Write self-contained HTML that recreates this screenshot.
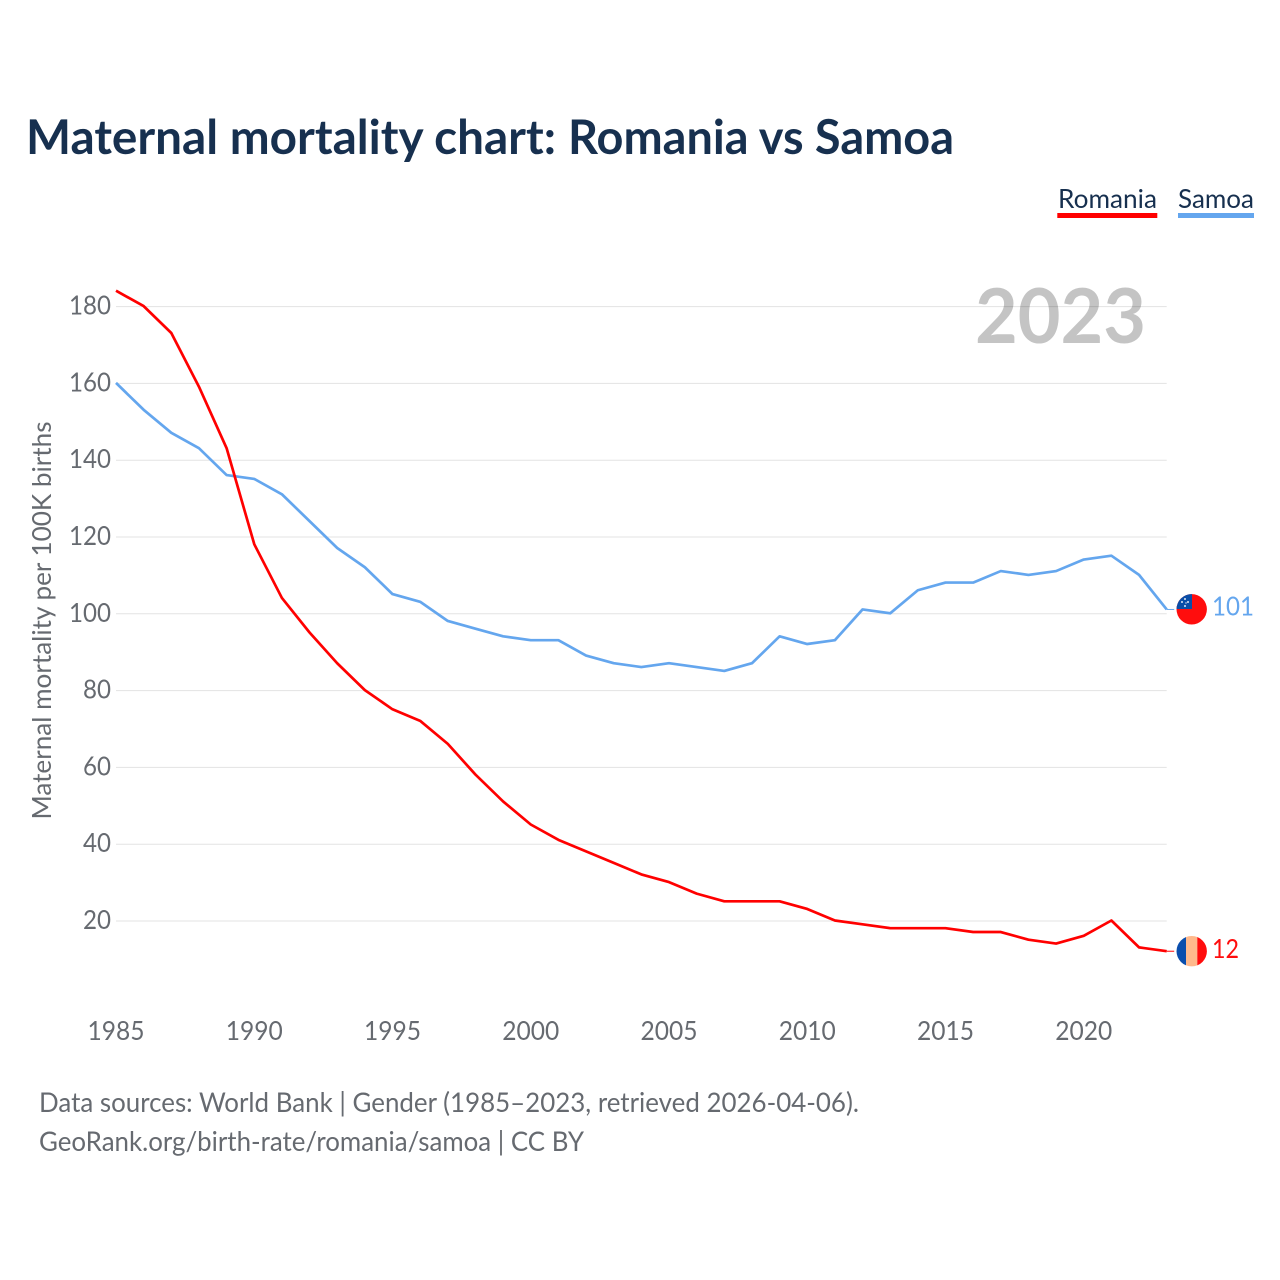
<!DOCTYPE html>
<html lang="en">
<head>
<meta charset="utf-8">
<title>Maternal mortality chart: Romania vs Samoa</title>
<style>
html,body{margin:0;padding:0;background:#fff;width:1280px;height:1280px;overflow:hidden}
svg{display:block}
text{font-family:"Lato","Carlito","Liberation Sans",sans-serif}
</style>
</head>
<body>
<svg id="chart" xmlns="http://www.w3.org/2000/svg" width="1280" height="1280" viewBox="0 0 1280 1280">
  <defs>
    <clipPath id="flag-clip-samoa"><circle cx="1191.7" cy="609.3" r="15.2"/></clipPath>
    <clipPath id="flag-clip-romania"><circle cx="1191.7" cy="951.2" r="15.2"/></clipPath>
  </defs>
  <g>
    <text x="26" y="154" font-size="48" font-weight="700" fill="#17304f" textLength="530" lengthAdjust="spacingAndGlyphs">Maternal mortality chart:</text>
    <text x="568" y="154" font-size="48" font-weight="700" fill="#17304f" textLength="386" lengthAdjust="spacingAndGlyphs">Romania vs Samoa</text>
  </g>

  <g>
    <g>
      <text x="1058" y="208" font-size="26" fill="#17304f" textLength="99" lengthAdjust="spacingAndGlyphs">Romania</text>
      <rect x="1057.3" y="213" width="100" height="5" fill="#ff0000"/>
    </g>
    <g>
      <text x="1178" y="208" font-size="26" fill="#17304f" textLength="76" lengthAdjust="spacingAndGlyphs">Samoa</text>
      <rect x="1178" y="213" width="76" height="5" fill="#64a6ee"/>
    </g>
  </g>

  <text x="975" y="343" font-size="76" font-weight="700" fill="#c4c4c4" textLength="171" lengthAdjust="spacingAndGlyphs">2023</text>

  <g id="grid"></g>
  <g id="yticks"></g>
  <g id="xticks"></g>

  <text transform="translate(51,620.5) rotate(-90)" text-anchor="middle" font-size="26" fill="#666a70" textLength="398" lengthAdjust="spacingAndGlyphs">Maternal mortality per 100K births</text>

  <g id="series" transform="translate(0,-0.5)"></g>

  <g id="flag-samoa">
    <g clip-path="url(#flag-clip-samoa)">
      <rect x="1176" y="593" width="32" height="33" fill="#ff0d0d"/>
      <rect x="1176" y="593" width="16" height="16" fill="#0a4ea8"/>
      <circle cx="1185" cy="599" r="1" fill="#dfe8f5"/>
      <circle cx="1188" cy="602" r="1" fill="#dfe8f5"/>
      <circle cx="1182" cy="602" r="1" fill="#dfe8f5"/>
      <circle cx="1185" cy="606" r="1" fill="#dfe8f5"/>
      <circle cx="1186" cy="603" r="0.7" fill="#dfe8f5"/>
    </g>
  </g>
  <g id="flag-romania">
    <g clip-path="url(#flag-clip-romania)">
      <rect x="1176" y="935" width="10" height="33" fill="#0a4ead"/>
      <rect x="1186" y="935" width="11.3" height="33" fill="#ffb98c"/>
      <rect x="1197.3" y="935" width="11" height="33" fill="#ff0d0d"/>
    </g>
  </g>
  <text x="1212" y="615.5" font-size="26.5" fill="#64a6ee" textLength="42" lengthAdjust="spacingAndGlyphs">101</text>
  <text x="1212" y="958" font-size="26.5" fill="#ff0d0d" textLength="27" lengthAdjust="spacingAndGlyphs">12</text>

  <g>
    <text x="39" y="1112" font-size="27" fill="#666a70" textLength="820" lengthAdjust="spacingAndGlyphs">Data sources: World Bank | Gender (1985–2023, retrieved 2026-04-06).</text>
    <text x="39" y="1151" font-size="27" fill="#666a70" textLength="545" lengthAdjust="spacingAndGlyphs">GeoRank.org/birth-rate/romania/samoa | CC BY</text>
  </g>
</svg>
<script>
const years = [1985,1986,1987,1988,1989,1990,1991,1992,1993,1994,1995,1996,1997,1998,1999,2000,2001,2002,2003,2004,2005,2006,2007,2008,2009,2010,2011,2012,2013,2014,2015,2016,2017,2018,2019,2020,2021,2022,2023];
const romania = [184,180,173,159,143,118,104,95,87,80,75,72,66,58,51,45,41,38,35,32,30,27,25,25,25,23,20,19,18,18,18,17,17,15,14,16,20,13,12];
const samoa = [160,153,147,143,136,135,131,124,117,112,105,103,98,96,94,93,93,89,87,86,87,86,85,87,94,92,93,101,100,106,108,108,111,110,111,114,115,110,101];
const yTicks = [20,40,60,80,100,120,140,160,180];
const xTicks = [1985,1990,1995,2000,2005,2010,2015,2020];

const NS = 'http://www.w3.org/2000/svg';
const xScale = function (yr) { return 116 + (yr - 1985) * 27.65; };
const yScale = function (v) { return 997.8 - v * 3.84; };

const gridGroup = document.getElementById('grid');
const yTickGroup = document.getElementById('yticks');
const xTickGroup = document.getElementById('xticks');
const seriesGroup = document.getElementById('series');

yTicks.forEach(function (v) {
  const line = document.createElementNS(NS, 'line');
  
  
  line.setAttribute('x1', xScale(1985));
  line.setAttribute('x2', xScale(2023));
  line.setAttribute('y1', yScale(v));
  line.setAttribute('y2', yScale(v));
  line.setAttribute('stroke', 'rgba(0,0,0,0.11)');
  line.setAttribute('stroke-width', '1');
  gridGroup.appendChild(line);

  const label = document.createElementNS(NS, 'text');
  
  
  label.setAttribute('x', 111);
  label.setAttribute('y', yScale(v) + 8);
  label.setAttribute('text-anchor', 'end');
  label.setAttribute('font-size', '26');
  label.setAttribute('fill', '#666a70');
  label.setAttribute('textLength', String(v).length === 3 ? 42 : 28);
  label.setAttribute('lengthAdjust', 'spacingAndGlyphs');
  label.textContent = v;
  yTickGroup.appendChild(label);
});

xTicks.forEach(function (yr) {
  const label = document.createElementNS(NS, 'text');
  
  
  label.setAttribute('x', xScale(yr));
  label.setAttribute('y', 1040);
  label.setAttribute('text-anchor', 'middle');
  label.setAttribute('font-size', '26');
  label.setAttribute('fill', '#666a70');
  label.setAttribute('textLength', 57);
  label.setAttribute('lengthAdjust', 'spacingAndGlyphs');
  label.textContent = yr;
  xTickGroup.appendChild(label);
});

function drawSeries(values, color, name) {
  const pts = values.map(function (v, i) {
    return xScale(years[i]).toFixed(2) + ',' + yScale(v).toFixed(2);
  }).join(' ');
  const poly = document.createElementNS(NS, 'polyline');
  
  
  poly.setAttribute('points', pts);
  poly.setAttribute('fill', 'none');
  poly.setAttribute('stroke', color);
  poly.setAttribute('stroke-width', '2.7');
  poly.setAttribute('stroke-linejoin', 'round');
  seriesGroup.appendChild(poly);

  const last = values[values.length - 1];
  const connector = document.createElementNS(NS, 'line');
  
  
  connector.setAttribute('x1', xScale(2023));
  connector.setAttribute('x2', xScale(2023) + 7.5);
  connector.setAttribute('y1', yScale(last));
  connector.setAttribute('y2', yScale(last));
  connector.setAttribute('stroke', color);
  connector.setAttribute('stroke-width', '1');
  seriesGroup.appendChild(connector);
}
drawSeries(samoa, '#64a6ee', 'line-samoa');
drawSeries(romania, '#ff0000', 'line-romania');
</script>
</body>
</html>
